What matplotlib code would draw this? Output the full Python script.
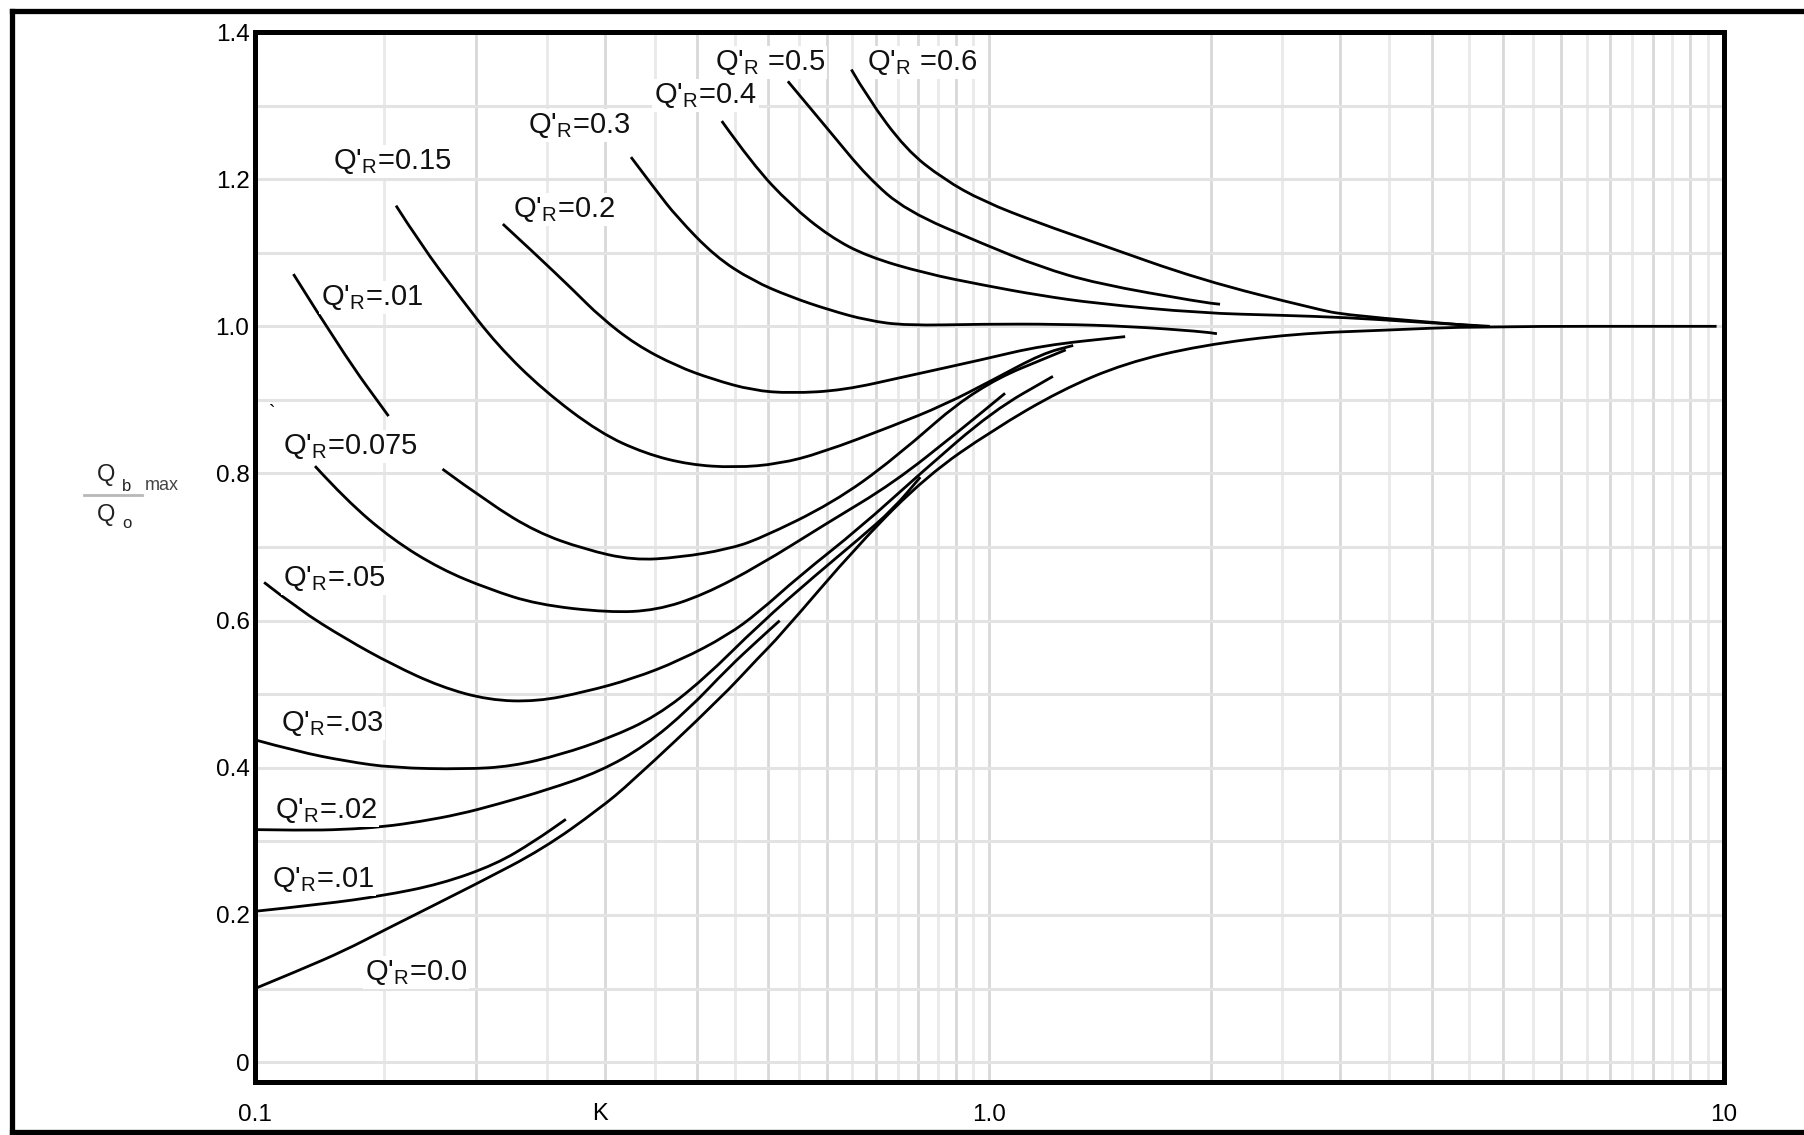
import numpy as np
import matplotlib
matplotlib.use("Agg")
import matplotlib.pyplot as plt
from matplotlib.lines import Line2D
from matplotlib.path import Path
from matplotlib.patches import PathPatch

plt.rcParams["font.family"] = ["Liberation Sans", "DejaVu Sans"]
plt.rcParams["mathtext.fontset"] = "custom"
plt.rcParams["mathtext.rm"] = "Liberation Sans"
plt.rcParams["mathtext.it"] = "Liberation Sans:italic"
plt.rcParams["mathtext.bf"] = "Liberation Sans:bold"

# curves: K (log axis) and Qb max / Qo, one pair per Q'R
k_000 = [0.1, 0.115, 0.1327, 0.149, 0.201, 0.247, 0.295, 0.325, 0.43, 0.486, 0.517,
         0.666, 0.822, 1.01, 1.25, 1.53, 1.94, 2.6, 3.5, 4.6, 9.77]
y_000 = [0.10, 0.125, 0.152, 0.178, 0.243, 0.29, 0.345, 0.38, 0.494, 0.551, 0.578,
         0.706, 0.797, 0.859, 0.913, 0.950, 0.974, 0.99, 0.995, 1.0, 1.0]

k_001 = [0.1, 0.1245, 0.149, 0.179, 0.213, 0.24, 0.265]
y_001 = [0.205, 0.215, 0.226, 0.242, 0.269, 0.30, 0.330]

k_002 = [0.1, 0.115, 0.132, 0.15, 0.168, 0.19, 0.213, 0.25, 0.295, 0.34, 0.39, 0.44, 0.486, 0.518]
y_002 = [0.316, 0.315, 0.316, 0.32, 0.327, 0.337, 0.35, 0.37, 0.395, 0.43, 0.48, 0.535, 0.575, 0.60]

k_003 = [0.1, 0.1144, 0.133, 0.154, 0.193, 0.224, 0.261, 0.303, 0.352, 0.408, 0.486, 0.58,
         0.666, 0.74, 0.805]
y_003 = [0.438, 0.422, 0.409, 0.400, 0.398, 0.402, 0.418, 0.44, 0.47, 0.52, 0.595, 0.662,
         0.712, 0.752, 0.795]

k_005 = [0.1029, 0.1144, 0.133, 0.154, 0.179, 0.208, 0.242, 0.281, 0.327, 0.379, 0.44, 0.486,
         0.55, 0.666, 0.805, 1.01, 1.22]
y_005 = [0.652, 0.616, 0.575, 0.540, 0.510, 0.492, 0.490, 0.503, 0.521, 0.546, 0.58, 0.612,
         0.66, 0.726, 0.80, 0.885, 0.932]

k_0075 = [0.1207, 0.133, 0.154, 0.179, 0.208, 0.242, 0.303, 0.352, 0.408, 0.486, 0.602, 0.74,
          0.91, 1.05]
y_0075 = [0.810, 0.764, 0.71, 0.670, 0.643, 0.622, 0.611, 0.614, 0.635, 0.675, 0.733, 0.787,
          0.858, 0.909]

# the 0.1 curve is broken where the 0.075 label sits
k_010_top = [0.1128, 0.1318, 0.152]
y_010_top = [1.071, 0.963, 0.878]
k_010 = [0.18, 0.208, 0.242, 0.281, 0.327, 0.379, 0.44, 0.486, 0.612, 0.74, 0.96, 1.27]
y_010 = [0.806, 0.76, 0.72, 0.697, 0.682, 0.686, 0.697, 0.711, 0.76, 0.819, 0.918, 0.968]

k_015 = [0.1556, 0.168, 0.19, 0.2135, 0.247, 0.295, 0.34, 0.39, 0.45, 0.517, 0.59, 0.74,
         0.867, 1.01, 1.18, 1.30]
y_015 = [1.164, 1.112, 1.04, 0.975, 0.913, 0.855, 0.827, 0.812, 0.808, 0.813, 0.828, 0.865,
         0.893, 0.927, 0.963, 0.974]

k_020 = [0.2175, 0.241, 0.272, 0.295, 0.33, 0.375, 0.42, 0.476, 0.536, 0.632, 0.77, 0.98, 1.18, 1.53]
y_020 = [1.139, 1.098, 1.048, 1.013, 0.975, 0.946, 0.928, 0.913, 0.909, 0.913, 0.932, 0.955, 0.974, 0.986]

k_030 = [0.325, 0.352, 0.375, 0.423, 0.476, 0.536, 0.606, 0.682, 0.77, 0.98, 1.24, 1.55, 1.94, 2.04]
y_030 = [1.23, 1.184, 1.149, 1.095, 1.062, 1.04, 1.022, 1.008, 1.001, 1.003, 1.003, 1.0, 0.993, 0.99]

k_040 = [0.432, 0.476, 0.536, 0.606, 0.682, 0.817, 0.98, 1.17, 1.40, 1.94, 2.5, 3.06, 3.8, 4.8]
y_040 = [1.279, 1.22, 1.165, 1.122, 1.095, 1.072, 1.056, 1.042, 1.031, 1.018, 1.015, 1.012, 1.006, 1.0]

k_050 = [0.5315, 0.606, 0.682, 0.77, 0.98, 1.17, 1.40, 1.94, 2.06]
y_050 = [1.333, 1.265, 1.203, 1.157, 1.112, 1.081, 1.058, 1.033, 1.03]

k_060 = [0.6485, 0.682, 0.77, 0.866, 0.98, 1.17, 1.40, 1.94, 2.77, 3.07, 4.65]
y_060 = [1.349, 1.311, 1.24, 1.20, 1.17, 1.14, 1.113, 1.063, 1.024, 1.015, 1.0]

curves = [(k_000, y_000), (k_001, y_001), (k_002, y_002), (k_003, y_003), (k_005, y_005),
          (k_0075, y_0075), (k_010_top, y_010_top), (k_010, y_010), (k_015, y_015),
          (k_020, y_020), (k_030, y_030), (k_040, y_040), (k_050, y_050), (k_060, y_060)]

# curve labels (text as printed on the chart, baseline position)
label_text = ["0.15", ".01", "0.075", ".05", ".03", ".02", ".01", "0.0",
              "0.2", "0.3", "0.4", "0.5", "0.6"]
label_gap = ["", "", "", "", "", "", "", "", "", "", "", " ", " "]
label_k = [0.1277, 0.123, 0.1092, 0.1092, 0.1085, 0.1065, 0.1055, 0.141,
           0.2244, 0.235, 0.3497, 0.4226, 0.682]
label_y = [1.214, 1.029, 0.827, 0.647, 0.45, 0.332, 0.238, 0.112,
           1.148, 1.263, 1.303, 1.348, 1.348]

y_ticks = [0, 0.2, 0.4, 0.6, 0.8, 1.0, 1.2, 1.4]
y_tick_labels = ["0", "0.2", "0.4", "0.6", "0.8", "1.0", "1.2", "1.4"]
x_labelled = {0.1: "0.1", 1.0: "1.0", 10.0: "10"}


def smooth_path(k, y):
    # quadratic bezier through the read points, midpoints taken in log-K space
    lk = np.log10(k)
    verts = [(k[0], y[0])]
    codes = [Path.MOVETO]
    for i in range(1, len(k) - 1):
        verts += [(k[i], y[i]), (10 ** ((lk[i] + lk[i + 1]) / 2), (y[i] + y[i + 1]) / 2)]
        codes += [Path.CURVE3, Path.CURVE3]
    verts.append((k[-1], y[-1]))
    codes.append(Path.LINETO)
    return Path(verts, codes)


fig = plt.figure(figsize=(18.04, 11.35), dpi=100)
ax = fig.add_axes([0.14135, 0.0467, 0.8143, 0.9251])
ax.set_xscale("log")
ax.set_xlim(0.1, 10)
ax.set_ylim(-0.027, 1.4)

# grid: whole steps darker, half steps lighter
x_major = list(np.round(np.arange(0.1, 1.0, 0.1), 2)) + list(np.arange(1.0, 10.5, 1.0))
x_minor = list(np.round(np.arange(0.15, 1.0, 0.1), 3)) + list(np.arange(2.5, 10, 1.0))
ax.set_xticks(x_major, labels=[x_labelled.get(round(v, 2), "") for v in x_major])
ax.set_xticks(x_minor, minor=True)
ax.set_yticks(y_ticks, labels=y_tick_labels)
ax.set_yticks(np.round(np.arange(0.1, 1.4, 0.2), 2), minor=True)
ax.xaxis.set_minor_formatter(plt.NullFormatter())
ax.grid(True, which="major", axis="x", color="#d8d8d8", lw=2.0)
ax.grid(True, which="minor", axis="x", color="#e9e9e9", lw=2.0)
ax.grid(True, which="both", axis="y", color="#e3e3e3", lw=2.2)
ax.set_axisbelow(True)
ax.tick_params(which="both", length=0)
ax.tick_params(axis="y", labelsize=17.5, pad=4)
ax.tick_params(axis="x", labelsize=17.5, pad=16)
for s in ax.spines.values():
    s.set_linewidth(3.6)
    s.set_color("black")

for k, y in curves:
    ax.add_patch(PathPatch(smooth_path(k, y), fill=False, edgecolor="black", lw=2.0,
                           capstyle="butt", joinstyle="round", zorder=2))

for txt, gap, kx, yy in zip(label_text, label_gap, label_k, label_y):
    ax.text(kx, yy, "Q$'_{\\mathrm{R}}$" + gap + "=" + txt, fontsize=21, ha="left", va="baseline",
            color="#111111", zorder=4, bbox=dict(facecolor="white", edgecolor="none", pad=1.5))

ax.text(0.1057, 0.882, "`", fontsize=14, ha="center", va="center")
ax.text(0.295, -0.0305, "K", transform=ax.get_xaxis_transform(), fontsize=17,
        ha="center", va="center")

# y axis label drawn as a fraction Qb max / Qo
W, H = 1804.0, 1135.0
fig.text(97 / W, 1 - 481 / H, "Q", fontsize=17, va="baseline", color="#222222")
fig.text(122 / W, 1 - 491 / H, "b", fontsize=12, va="baseline", color="#222222")
fig.text(145 / W, 1 - 490 / H, "max", fontsize=13, va="baseline", color="#444444")
fig.text(97 / W, 1 - 521 / H, "Q", fontsize=17, va="baseline", color="#222222")
fig.text(122 / W, 1 - 528 / H, "o", fontsize=12, va="baseline", color="#222222")
fig.add_artist(Line2D([84 / W, 142 / W], [1 - 495 / H, 1 - 495 / H], color="#b8b8b8", lw=2))

# outer frame of the scanned figure
fx, fy_top, fy_bot = 12 / W, 1 - 11 / H, 1 - 1132 / H
fig.add_artist(Line2D([fx, fx], [fy_bot, fy_top], color="black", lw=3.8))
fig.add_artist(Line2D([fx, 1.0], [fy_top, fy_top], color="black", lw=3.8))
fig.add_artist(Line2D([fx, 1.0], [fy_bot, fy_bot], color="black", lw=3.8))

fig.savefig("out.png", dpi=100)
